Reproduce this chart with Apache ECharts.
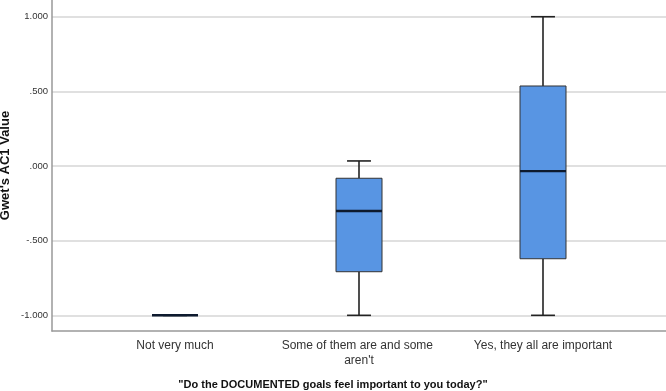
<!DOCTYPE html>
<html>
<head>
<meta charset="utf-8">
<script src="https://cdn.jsdelivr.net/npm/echarts@6/dist/echarts.min.js"></script>
<style>html,body{margin:0;padding:0;background:#fff}#c{width:666px;height:391px}</style>
</head>
<body>
<div id="c"></div>
<script>
const categories = ["Not very much", "Some of them are and some aren't", "Yes, they all are important"];
// [min, q1, median, q3, max]
const mins    = [-1.000, -1.000, -1.000];
const q1s     = [-1.000, -0.708, -0.621];
const medians = [-1.000, -0.301, -0.034];
const q3s     = [-1.000, -0.082, 0.536];
const maxs    = [-1.000, 0.034, 1.000];
const yTicks = [-1, -0.5, 0, 0.5, 1];
const yTickLabels = ["-1.000", "-.500", ".000", ".500", "1.000"];
const yTitle = "Gwet's AC1 Value";
const xTitle = '"Do the DOCUMENTED goals feel important to you today?"';

const boxData = categories.map((c, i) => [i, mins[i], q1s[i], medians[i], q3s[i], maxs[i]]);
const YMIN = -1.105, YMAX = 1.112;
const FONT = 'Liberation Sans, Arial, sans-serif';

const chart = echarts.init(document.getElementById('c'), null, {renderer: 'canvas'});
chart.setOption({
  animation: false,
  backgroundColor: '#fff',
  title: {
    text: xTitle, left: 'center', top: 374,
    textStyle: {fontFamily: FONT, fontSize: 11, fontWeight: 'bold', color: '#111'}
  },
  grid: [
    {left: 52, right: 0, top: 0, bottom: 60, containLabel: false, outerBoundsMode: 'none'},
    {left: 83, right: 31, top: 0, bottom: 60, containLabel: false, outerBoundsMode: 'none'}
  ],
  xAxis: [
    {gridIndex: 0, type: 'value', min: 0, max: 1, axisLine: {show: true, onZero: false, lineStyle: {color: '#999', width: 1.5}},
     axisTick: {show: false}, axisLabel: {show: false}, splitLine: {show: false}},
    {gridIndex: 1, type: 'category', data: categories,
     axisLine: {show: false}, axisTick: {show: false}, splitLine: {show: false},
     axisLabel: {interval: 0, margin: 7, color: '#333', fontFamily: FONT, fontSize: 12, lineHeight: 15,
       width: 175, overflow: 'break', align: 'center'}}
  ],
  yAxis: [
    {gridIndex: 0, type: 'value', min: YMIN, max: YMAX,
     name: yTitle, nameLocation: 'middle', nameGap: 40, nameMoveOverlap: false,
     nameTextStyle: {fontFamily: FONT, fontSize: 13, fontWeight: 'bold', color: '#111'},
     axisLine: {show: true, lineStyle: {color: '#999', width: 1.5}},
     axisTick: {show: false, customValues: yTicks},
     axisLabel: {customValues: yTicks, margin: 4, color: '#333', fontFamily: FONT, fontSize: 9.5,
       formatter: v => { const i = yTicks.findIndex(t => Math.abs(t - v) < 1e-6); return i >= 0 ? yTickLabels[i] : ''; }},
     splitLine: {show: true, lineStyle: {color: '#d6d6d6', width: 1.5}}},
    {gridIndex: 1, type: 'value', min: YMIN, max: YMAX, show: false, splitLine: {show: false}}
  ],
  series: [{
    type: 'custom', xAxisIndex: 1, yAxisIndex: 1,
    data: boxData,
    encode: {x: 0, y: [1, 2, 3, 4, 5]},
    renderItem: function (params, api) {
      const x = api.value(0);
      const lo = api.coord([x, api.value(1)]);
      const q1 = api.coord([x, api.value(2)]);
      const md = api.coord([x, api.value(3)]);
      const q3 = api.coord([x, api.value(4)]);
      const hi = api.coord([x, api.value(5)]);
      const band = api.size([1, 0])[0];
      const bw = band * 0.25, cw = bw * 0.52;
      const cx = lo[0];
      const ws = {stroke: '#222', lineWidth: 1.6};
      return {type: 'group', children: [
        {type: 'line', shape: {x1: cx, y1: hi[1], x2: cx, y2: q3[1]}, style: ws},
        {type: 'line', shape: {x1: cx, y1: q1[1], x2: cx, y2: lo[1]}, style: ws},
        {type: 'line', shape: {x1: cx - cw / 2, y1: hi[1], x2: cx + cw / 2, y2: hi[1]}, style: ws},
        {type: 'line', shape: {x1: cx - cw / 2, y1: lo[1], x2: cx + cw / 2, y2: lo[1]}, style: ws},
        {type: 'rect', shape: {x: cx - bw / 2, y: q3[1], width: bw, height: q1[1] - q3[1]},
         style: {fill: '#5895e3', stroke: '#333', lineWidth: 1}},
        {type: 'line', shape: {x1: cx - bw / 2, y1: md[1], x2: cx + bw / 2, y2: md[1]},
         style: {stroke: '#0d1a2e', lineWidth: 2.4}}
      ]};
    }
  }]
});
</script>
</body>
</html>
